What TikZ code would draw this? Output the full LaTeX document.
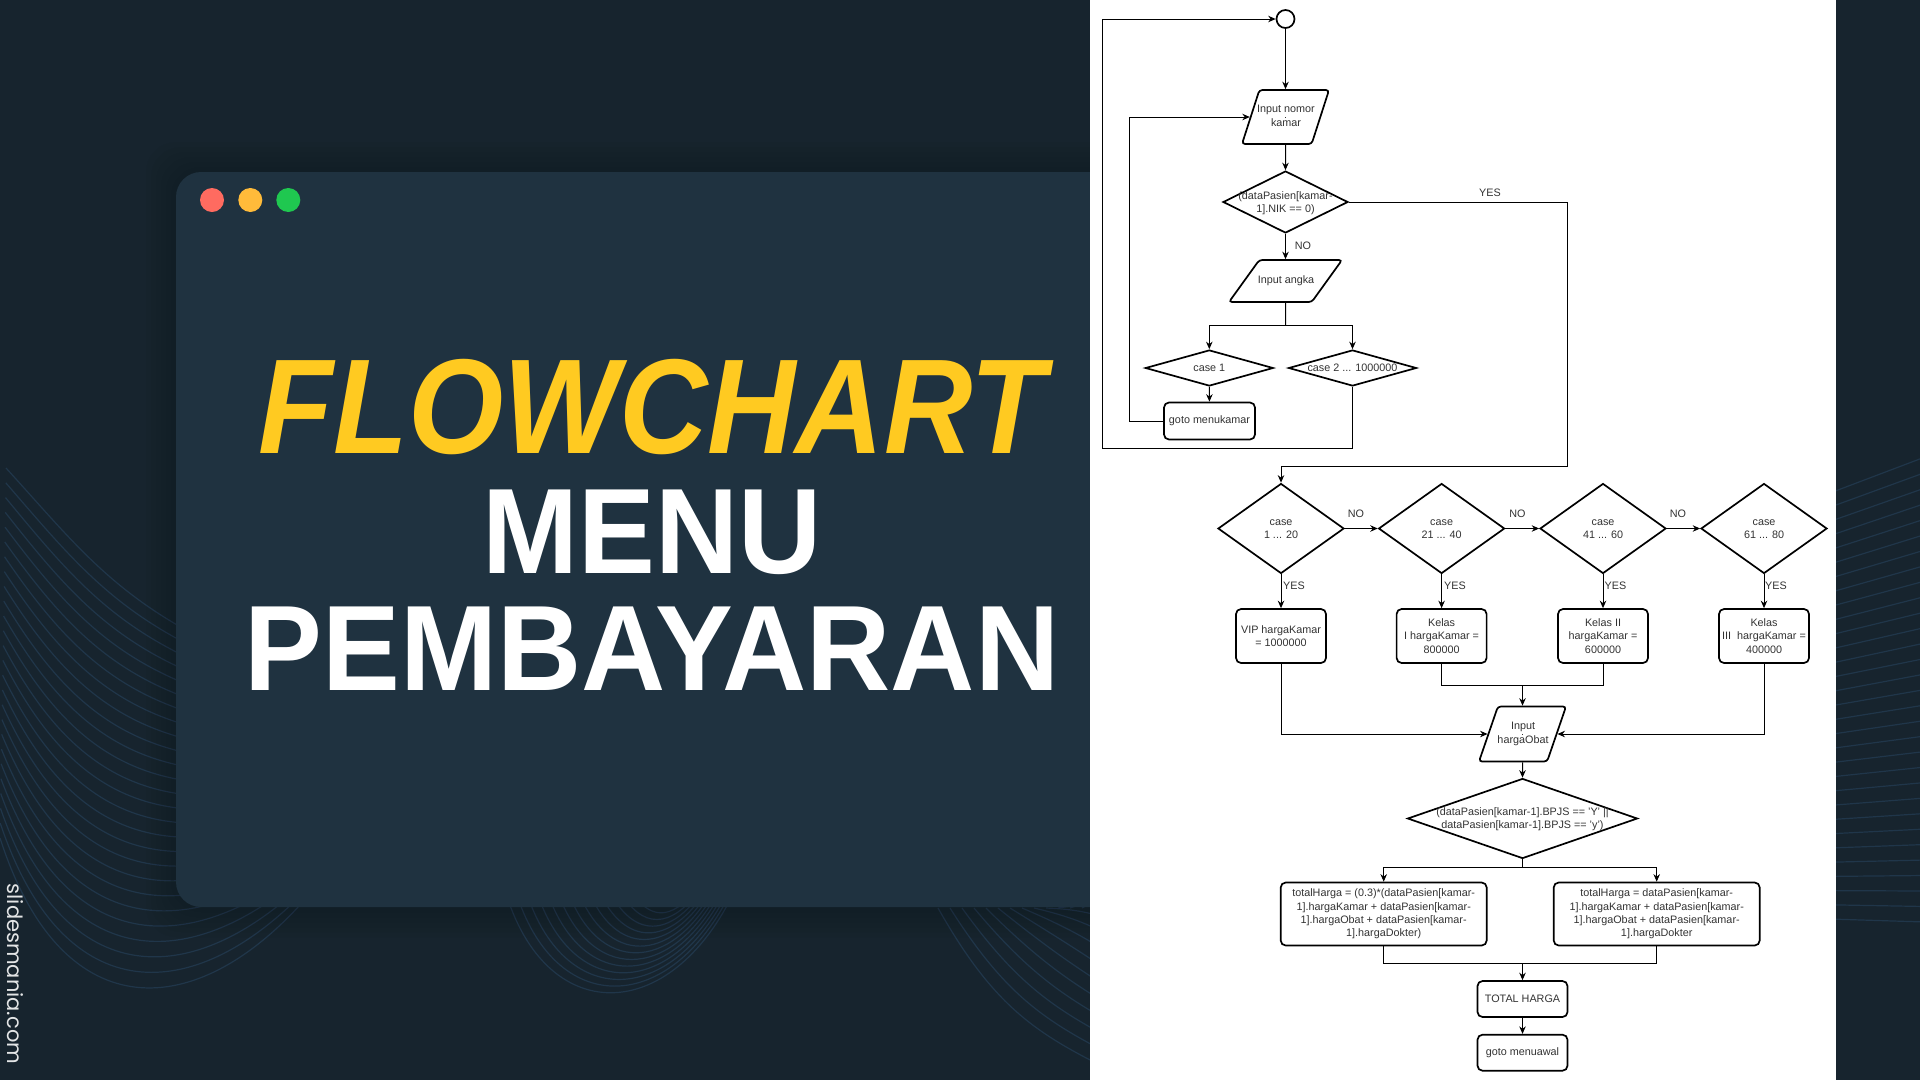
\documentclass[tikz,border=0pt]{standalone}
\usepackage{fontspec}
\setmainfont{Liberation Sans}
\newfontfamily\markfont{Poppins}
\usepackage{graphicx}
\usepackage{tikz}
\usetikzlibrary{arrows.meta,shapes.geometric}
\definecolor{bgdark}{HTML}{17242E}
\definecolor{carddark}{HTML}{1F3240}
\definecolor{waveline}{HTML}{20364A}
\definecolor{titleyellow}{HTML}{FFCA21}
\definecolor{flowtext}{HTML}{333333}
\definecolor{dotred}{HTML}{FF6B60}
\definecolor{dotyellow}{HTML}{FFBB3A}
\definecolor{dotgreen}{HTML}{1FC850}
% text that may run over the edges of its shape
\newcommand{\fittext}[1]{\smash{\makebox[0pt]{\raisebox{-.36em}{\begin{tabular}{@{}c@{}}#1\end{tabular}}}}}
\newcommand{\slanttext}[1]{\rule{1pt}{1pt}\smash{\makebox[0pt]{\raisebox{-.2em}{\begin{tabular}{@{}c@{}}#1\end{tabular}}}}}
\tikzset{
  flowfont/.style={font=\fontsize{10.8}{13.3}\selectfont,text=flowtext},
  decision/.style n args={2}{diamond,draw=black,line width=1.7pt,fill=white,inner sep=0pt,aspect=1,
    minimum width=#1,minimum height=#2,flowfont},
  inputbox/.style n args={3}{trapezium,trapezium left angle=#3,trapezium right angle=180-#3,
    trapezium stretches=true,draw=black,line width=1.7pt,rounded corners=3pt,fill=white,inner sep=0pt,
    minimum width=#1,minimum height=#2,flowfont},
  procbox/.style n args={2}{rectangle,draw=black,line width=1.7pt,rounded corners=5pt,fill=white,inner sep=0pt,
    minimum width=#1,minimum height=#2,align=center,flowfont},
  linklabel/.style={flowfont,inner sep=0pt},
  link/.style={draw=black,line width=1pt},
  arrowlink/.style={link,->},
  wave/.style={draw=waveline,line width=1.2pt},
  windowdot/.style={circle,minimum size=24pt,inner sep=0pt},
  maintitle/.style={anchor=base,inner sep=0pt,font=\fontsize{121.5}{122}\selectfont\bfseries}
}
\begin{document}
\begin{tikzpicture}[x=1pt,y=-1pt,>={Stealth[length=7.5pt,width=6.5pt]}]
  \useasboundingbox (0,0) rectangle (1920,1080);
  \fill[bgdark] (0,0) rectangle (1920,1080);
  % background lines, left
  \foreach \f in {0,0.04,...,1.01}
    \draw[wave] (6-6*\f,468+370*\f) .. controls (90-30*\f,560+465*\f) and (130+60*\f,620+405*\f) .. (300,680+225*\f);
  % background lines, bottom middle
  \foreach \f in {0,0.08,...,1.01}
    \draw[wave] (505+130*\f,890) .. controls (545+110*\f,1027-111*\f) and (670,1027-111*\f) .. (735-40*\f,890);
  % background lines, bottom right
  \foreach \i in {0,...,14}
    \draw[wave] (938+12*\i,908) .. controls (990+12*\i,1000-10*\i) and (1030+10*\i,1030-12*\i) .. (1100+4*\i,1065-14*\i);
  % background lines, right edge
  \foreach \i in {0,...,30}
    \draw[wave] (1830,493+14.2*\i) -- (1925,457+15.5*\i);
  % card with its soft edge
  \foreach \g in {5,10,...,30}
    \fill[black,opacity=0.022,rounded corners=30pt] (176-\g,172-\g) rectangle (1120,907+\g);
  \fill[carddark,rounded corners=25pt] (176,172) rectangle (1120,907);
  \fill[white] (1090,0) rectangle (1836,1080);
  % window dots
  \node[windowdot,fill=dotred] (redbutton) at (212,200) {};
  \node[windowdot,fill=dotyellow] (yellowbutton) at (250.3,200) {};
  \node[windowdot,fill=dotgreen] (greenbutton) at (288.3,200) {};
  % title
  \node[maintitle,text=titleyellow,font=\fontsize{135}{135}\selectfont\bfseries\itshape] (titleflow) at (652,453) {\scalebox{.907}[1]{FLOWCHART}};
  \node[maintitle,text=white] (titlemenu) at (652,573) {\scalebox{.948}[1]{MENU}};
  \node[maintitle,text=white] (titlepay) at (652,690.7) {\scalebox{.96}[1]{PEMBAYARAN}};
  \node[rotate=-90,text=white!88!bgdark,font=\markfont\fontsize{21}{21}\selectfont,inner sep=0pt] (brand) at (15,974) {slidesmania.com};
  % upper flow
  \node[circle,draw=black,line width=1.7pt,fill=white,minimum size=18pt,inner sep=0pt] (start) at (1285.5,19) {};
  \node[inputbox={87}{54}{71.6}] (inputkamar) at (1285.5,117) {\slanttext{Input nomor\\kamar}};
  \node[decision={125}{62}] (checknik) at (1285.5,202) {\fittext{(dataPasien[kamar-\\1].NIK == 0)}};
  \node[inputbox={113}{42}{60}] (inputangka) at (1285.5,281) {\slanttext{Input angka}};
  \node[decision={128}{36}] (caseone) at (1209.3,368) {\fittext{case 1}};
  \node[decision={128}{36}] (casemany) at (1352.5,368) {\fittext{case 2 ... 1000000}};
  \node[procbox={91}{37}] (gotokamar) at (1209.5,421) {goto menukamar};
  \coordinate (split) at (1285.5,325.7);
  \coordinate (outerloop) at (1102,448);
  \coordinate (innerloop) at (1129,117);
  \coordinate (yesturn) at (1567,466);
  \draw[arrowlink] (start) -- (inputkamar);
  \draw[arrowlink] (inputkamar) -- (checknik);
  \draw[arrowlink] (checknik) -- (inputangka);
  \draw[link] (inputangka) -- (split);
  \draw[arrowlink] (split) -| (caseone.north);
  \draw[arrowlink] (split) -| (casemany.north);
  \draw[arrowlink] (caseone) -- (gotokamar);
  \draw[arrowlink] (gotokamar.west) -| (innerloop) -- (inputkamar.west);
  \draw[arrowlink] (casemany.south) |- (outerloop) |- (start.west);
  \node[linklabel] (labelno) at (1303,246) {NO};
  \node[linklabel] (labelyes) at (1490,193) {YES};
  % room classes
  \node[decision={126}{90}] (casevip) at (1281,528.5) {\fittext{case\\1 ... 20}};
  \node[decision={126}{90}] (caseI) at (1441.6,528.5) {\fittext{case\\21 ... 40}};
  \node[decision={126}{90}] (caseII) at (1603,528.5) {\fittext{case\\41 ... 60}};
  \node[decision={126}{90}] (caseIII) at (1764,528.5) {\fittext{case\\61 ... 80}};
  \node[procbox={90}{54}] (roomvip) at (1281,636) {VIP hargaKamar\\= 1000000};
  \node[procbox={90}{54}] (roomI) at (1441.6,636) {Kelas\\I hargaKamar =\\800000};
  \node[procbox={90}{54}] (roomII) at (1603,636) {Kelas II\\hargaKamar =\\600000};
  \node[procbox={90}{54}] (roomIII) at (1764,636) {Kelas\\III\ \ hargaKamar =\\400000};
  \draw[arrowlink] (checknik.east) -| (yesturn) -| (casevip.north);
  \draw[arrowlink] (casevip) -- (caseI);
  \draw[arrowlink] (caseI) -- (caseII);
  \draw[arrowlink] (caseII) -- (caseIII);
  \draw[arrowlink] (casevip) -- (roomvip);
  \draw[arrowlink] (caseI) -- (roomI);
  \draw[arrowlink] (caseII) -- (roomII);
  \draw[arrowlink] (caseIII) -- (roomIII);
  \node[linklabel] (nofirst) at (1356,514) {NO};
  \node[linklabel] (nosecond) at (1517.5,514) {NO};
  \node[linklabel] (nothird) at (1678,514) {NO};
  \node[linklabel] (yesvip) at (1294,586) {YES};
  \node[linklabel] (yesI) at (1455,586) {YES};
  \node[linklabel] (yesII) at (1615.5,586) {YES};
  \node[linklabel] (yesIII) at (1776,586) {YES};
  % medicine and totals
  \node[inputbox={87}{55}{69}] (inputobat) at (1522.5,734) {\slanttext{Input\\hargaObat}};
  \node[decision={230}{80}] (checkbpjs) at (1522.5,818.5) {\fittext{(dataPasien[kamar-1].BPJS == 'Y' ||\\dataPasien[kamar-1].BPJS == 'y')}};
  \node[procbox={206}{63}] (totalbpjs) at (1383.7,914) {totalHarga = (0.3)*(dataPasien[kamar-\\1].hargaKamar + dataPasien[kamar-\\1].hargaObat + dataPasien[kamar-\\1].hargaDokter)};
  \node[procbox={206}{63}] (totalplain) at (1656.7,914) {totalHarga = dataPasien[kamar-\\1].hargaKamar + dataPasien[kamar-\\1].hargaObat + dataPasien[kamar-\\1].hargaDokter};
  \node[procbox={90}{36}] (totalharga) at (1522.5,999) {TOTAL HARGA};
  \node[procbox={90}{36}] (gotoawal) at (1522.5,1052.7) {goto menuawal};
  \coordinate (joinrooms) at (1522.5,685);
  \coordinate (splitbpjs) at (1522.5,867.3);
  \coordinate (jointotal) at (1522.5,963);
  \draw[link] (roomI.south) |- (joinrooms);
  \draw[link] (roomII.south) |- (joinrooms);
  \draw[arrowlink] (joinrooms) -- (inputobat);
  \draw[arrowlink] (roomvip.south) |- (inputobat.west);
  \draw[arrowlink] (roomIII.south) |- (inputobat.east);
  \draw[arrowlink] (inputobat) -- (checkbpjs);
  \draw[link] (checkbpjs) -- (splitbpjs);
  \draw[arrowlink] (splitbpjs) -| (totalbpjs.north);
  \draw[arrowlink] (splitbpjs) -| (totalplain.north);
  \draw[link] (totalbpjs.south) |- (jointotal);
  \draw[link] (totalplain.south) |- (jointotal);
  \draw[arrowlink] (jointotal) -- (totalharga);
  \draw[arrowlink] (totalharga) -- (gotoawal);
\end{tikzpicture}
\end{document}
